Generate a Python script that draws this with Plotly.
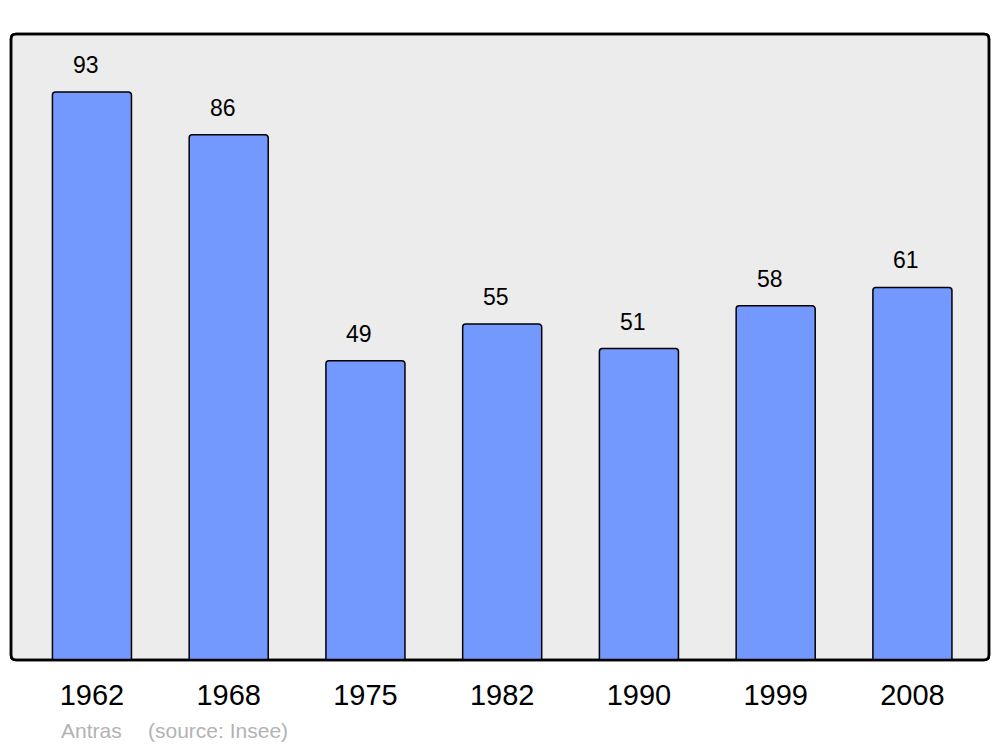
import plotly.graph_objects as go

years = ["1962", "1968", "1975", "1982", "1990", "1999", "2008"]
population = [93, 86, 49, 55, 51, 58, 61]
commune = "Antras"
source = "(source: Insee)"

OFF = 8  # page body margin
W, H = 1000 - OFF, 747 - OFF
ml, mt = 11 - OFF, 34 - OFF
pw, ph = 978, 626
mr, mb = W - ml - pw, H - mt - ph

FONT = "Liberation Sans, Arial, sans-serif"

fig = go.Figure()
fig.add_trace(go.Bar(
    x=years, y=population, width=0.578,
    marker=dict(color="#7399ff", line=dict(color="#000000", width=1.5), cornerradius=3),
    hoverinfo="x+y",
))

annotations = []
for i, v in enumerate(population):
    annotations.append(dict(x=i, y=v, xref="x", yref="y", text=str(v), showarrow=False,
                            yanchor="middle", yshift=27, xshift=-6,
                            font=dict(size=23, color="#000000", family=FONT)))

foot_y = -(730 - 34 - ph) / ph
annotations.append(dict(x=(59 - 11) / pw, y=foot_y, xref="paper", yref="paper",
                        text=commune, showarrow=False, xanchor="left", yanchor="middle",
                        font=dict(size=21, color="#b3b3b3", family=FONT)))
annotations.append(dict(x=(146 - 11) / pw, y=foot_y, xref="paper", yref="paper",
                        text=source, showarrow=False, xanchor="left", yanchor="middle",
                        font=dict(size=21, color="#b3b3b3", family=FONT)))

# rounded plot frame
r = 5
rx, ry = r / pw, r / ph
path = (f"M {rx},0 L {1-rx},0 Q 1,0 1,{ry} L 1,{1-ry} Q 1,1 {1-rx},1 "
        f"L {rx},1 Q 0,1 0,{1-ry} L 0,{ry} Q 0,0 {rx},0 Z")
shapes = [
    dict(type="path", path=path, xref="paper", yref="paper",
         fillcolor="#ececec", line=dict(color="#000000", width=2.5), layer="below"),
    dict(type="path", path=path, xref="paper", yref="paper",
         fillcolor="rgba(0,0,0,0)", line=dict(color="#000000", width=2.5), layer="above"),
]

fig.update_layout(
    width=W, height=H, autosize=False,
    margin=dict(l=ml, r=mr, t=mt, b=mb, pad=0),
    paper_bgcolor="#ffffff", plot_bgcolor="rgba(0,0,0,0)",
    showlegend=False,
    annotations=annotations, shapes=shapes,
    font=dict(family=FONT, color="#000000"),
    xaxis=dict(type="category", range=[-0.592, 6.56], showgrid=False, zeroline=False,
               showline=False, ticks="", tickfont=dict(size=29, color="#000000"),
               ticklabelstandoff=15, fixedrange=True),
    yaxis=dict(range=[0, 102.5], showgrid=False, zeroline=False, showline=False,
               showticklabels=False, ticks="", fixedrange=True),
)

fig.write_html("out.html")
